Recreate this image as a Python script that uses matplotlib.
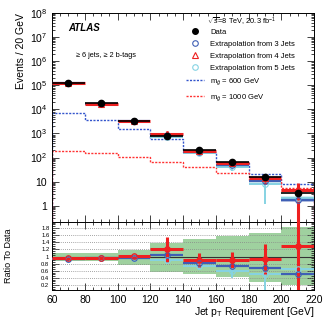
import numpy as np
import matplotlib
matplotlib.use('Agg')
import matplotlib.pyplot as plt
from matplotlib.lines import Line2D
from matplotlib.ticker import LogLocator, FuncFormatter, MultipleLocator, NullFormatter

plt.rcParams['font.family'] = ['Liberation Sans', 'DejaVu Sans']
plt.rcParams['mathtext.fontset'] = 'custom'
plt.rcParams['mathtext.rm'] = 'Liberation Sans'
plt.rcParams['mathtext.it'] = 'Liberation Sans:italic'

# bins of jet pT requirement
edges = [60, 80, 100, 120, 140, 160, 180, 200, 220]
centers = [70, 90, 110, 130, 150, 170, 190, 210]

data = [1.3e5, 1.8e4, 3.4e3, 810, 208, 68, 16, 3.3]

# extrapolation / data ratios
ratio3 = [0.92, 0.96, 0.97, 1.04, 0.81, 0.74, 0.69, 0.52]
ratio4 = [0.97, 0.97, 1.01, 1.20, 0.90, 0.89, 0.92, 1.30]
ratio5 = [0.94, 0.95, 0.96, 0.90, 0.74, 0.60, 0.52, 0.66]
err3 = [0.04, 0.04, 0.05, 0.08, 0.08, 0.10, 0.12, 0.15]
err4 = [0.05, 0.05, 0.06, 0.35, 0.20, 0.23, 0.42, 1.30]
err5 = [0.04, 0.04, 0.06, 0.12, 0.12, 0.20, 0.45, 1.50]
# relative width of the shaded bands around the extrapolations (main panel)
band_main = [0.06, 0.06, 0.07, 0.09, 0.10, 0.11, 0.13, 0.15]

# data uncertainty band in ratio
band_lo = [0.87, 0.87, 0.76, 0.57, 0.52, 0.43, 0.29, 0.19]
band_hi = [1.10, 1.10, 1.19, 1.39, 1.48, 1.57, 1.67, 1.82]

# signal models
sig600 = [7200, 3600, 1500, 590, 165, 60, 21, 7.8]
sig1000 = [195, 150, 103, 68, 42, 22, 11.5, 5.5]

c_blue = '#3f5fb5'
c_red = '#ee2020'
c_cyan = '#86d3e3'
c_green = '#9fd19f'

data = np.array(data)
bm = np.array(band_main)
extraps = [
    (np.array(ratio5), np.array(err5), c_cyan, 'o', 1.4),
    (np.array(ratio3), np.array(err3), c_blue, 'o', 1.6),
    (np.array(ratio4), np.array(err4), c_red, '^', 2.2),
]

fig = plt.figure(figsize=(3.32, 3.21), dpi=100)
ax = fig.add_axes([0.157, 0.3084, 0.789, 0.6511])
rx = fig.add_axes([0.157, 0.0966, 0.789, 0.2118], sharex=ax)

# ---- main panel ----
ax.stairs(sig600, edges, color='#3355cc', lw=1.0, ls=(0, (1.5, 1)), zorder=2)
ax.stairs(sig1000, edges, color='#ff3333', lw=1.0, ls=(0, (1.5, 1)), zorder=2)

for r, e, col, mk, lw in extraps:
    val = data * r
    err = data * e
    for i in range(len(centers)):
        ax.fill_between([edges[i], edges[i + 1]], val[i] * (1 - bm[i]),
                        val[i] * (1 + bm[i]), color=col, alpha=0.35, lw=0, zorder=3)
    ax.hlines(val, edges[:-1], edges[1:], color=col, lw=lw, zorder=4)
    ax.errorbar(centers, val, yerr=[np.minimum(err, val * 0.999), err], fmt='none',
                ecolor=col, elinewidth=lw, zorder=4)
    ax.plot(centers, val, mk, mfc='none', mec=col, ms=4, mew=0.8, zorder=5)

ax.errorbar(centers, data, xerr=10, fmt='o', color='black', ms=4.5,
            elinewidth=1.2, capsize=0, zorder=6)

ax.set_yscale('log')
ax.set_ylim(0.21, 1e8)
ax.set_xlim(60, 220)


def logfmt(v, pos):
    if abs(v - 1) < 1e-9:
        return '1'
    if abs(v - 10) < 1e-9:
        return '10'
    return r'$10^{%d}$' % round(np.log10(v))


ax.yaxis.set_major_locator(LogLocator(base=10, numticks=12))
ax.yaxis.set_minor_locator(LogLocator(base=10, subs=np.arange(2, 10), numticks=12))
ax.yaxis.set_major_formatter(FuncFormatter(logfmt))
ax.yaxis.set_minor_formatter(NullFormatter())
ax.xaxis.set_major_locator(MultipleLocator(20))
ax.xaxis.set_minor_locator(MultipleLocator(5))
ax.tick_params(axis='x', labelbottom=False)
for a in (ax, rx):
    a.tick_params(which='both', direction='in', top=True, right=True,
                  labelsize=7.5, width=0.6, colors='#222222', labelcolor='black')
    a.tick_params(which='major', length=5)
    a.tick_params(which='minor', length=2.5)
    for s in a.spines.values():
        s.set_linewidth(0.7)
ax.set_ylabel('Events / 20 GeV', fontsize=7.5, loc='top', labelpad=3)

ax.text(0.06, 0.915, 'ATLAS', transform=ax.transAxes, fontsize=7,
        fontweight='bold', fontstyle='italic')
ax.text(0.09, 0.79, '\u2265 6 jets, \u2265 2 b-tags', transform=ax.transAxes,
        fontsize=5.3)
ax.text(0.59, 0.955, r'$\sqrt{s}$=8 TeV, 20.3 fb$^{-1}$', transform=ax.transAxes,
        fontsize=5.3, va='center')

handles = [
    Line2D([], [], ls='none', marker='o', color='black', ms=4),
    Line2D([], [], ls='none', marker='o', mfc='none', mec=c_blue, ms=4, mew=0.8),
    Line2D([], [], ls='none', marker='^', mfc='none', mec=c_red, ms=4, mew=0.8),
    Line2D([], [], ls='none', marker='o', mfc='none', mec=c_cyan, ms=4, mew=0.8),
    Line2D([], [], color='#3355cc', lw=1.0, ls=(0, (1.5, 1))),
    Line2D([], [], color='#ff3333', lw=1.0, ls=(0, (1.5, 1))),
]
labels = ['Data', 'Extrapolation from 3 Jets', 'Extrapolation from 4 Jets',
          'Extrapolation from 5 Jets', r'm$_{\tilde{g}}$ = 600 GeV',
          r'm$_{\tilde{g}}$ = 1000 GeV']
ax.legend(handles, labels, loc='upper left', bbox_to_anchor=(0.51, 0.925),
          frameon=False, fontsize=5.5, handlelength=2.4, handletextpad=0.8,
          labelspacing=0.6, borderpad=0, borderaxespad=0)

# ---- ratio panel ----
for i in range(len(centers)):
    rx.fill_between([edges[i], edges[i + 1]], band_lo[i], band_hi[i],
                    color=c_green, lw=0, zorder=1)
for yv in [0.2, 0.4, 0.6, 0.8, 1.2, 1.4, 1.6, 1.8]:
    rx.axhline(yv, color='#888888', lw=0.6, ls=(0, (1, 1.5)), zorder=2)
rx.axhline(1.0, color='#333333', lw=0.8, zorder=2)

for r, e, col, mk, lw in extraps:
    rx.hlines(r, edges[:-1], edges[1:], color=col, lw=lw, zorder=4)
    rx.errorbar(centers, r, yerr=e, fmt='none', ecolor=col, elinewidth=lw, zorder=4)
    rx.plot(centers, r, 'o', mfc='none', mec=col, ms=4, mew=0.8, zorder=5)

rx.set_ylim(0.06, 1.97)
rx.set_yticks([0.2, 0.4, 0.6, 0.8, 1.0, 1.2, 1.4, 1.6, 1.8])
rx.set_yticklabels(['0.2', '0.4', '0.6', '0.8', '1', '1.2', '1.4', '1.6', '1.8'])
rx.yaxis.set_minor_locator(MultipleLocator(0.05))
rx.tick_params(axis='y', labelsize=4.2, pad=2)
rx.set_xlim(60, 220)
rx.set_ylabel('Ratio To Data', fontsize=6.5)
rx.yaxis.set_label_coords(-0.15, 0.5)
rx.set_xlabel(r'Jet p$_{\rm T}$ Requirement [GeV]', fontsize=7.5, loc='right', labelpad=0)

fig.savefig('out.png', dpi=100)
